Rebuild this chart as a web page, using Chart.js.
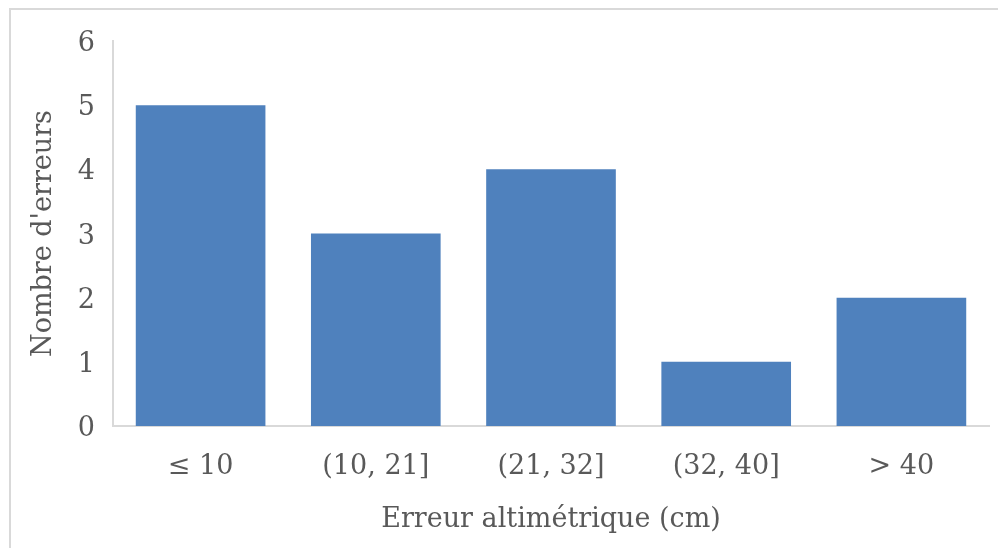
<!DOCTYPE html>
<html>
<head>
<meta charset="utf-8">
<script src="https://cdn.jsdelivr.net/npm/chart.js@4/dist/chart.umd.min.js"></script>
<style>
  html, body { margin: 0; padding: 0; background: #ffffff; }
  #wrap { position: relative; width: 998px; height: 548px; }
</style>
</head>
<body>
<div id="wrap"><canvas id="c" width="998" height="548"></canvas></div>
<script>
// Error classes (cm) and number of errors in each class
const categories = ['\u2264 10', '(10, 21]', '(21, 32]', '(32, 40]', '> 40'];
const errorCounts = [5, 3, 4, 1, 2];
const yTicks = [0, 1, 2, 3, 4, 5, 6];

const textColor = '#595959';
const fontFamily = '"DejaVu Serif", serif';
const fontSize = 27;

// Thin grey frame around the chart
const framePlugin = {
  id: 'frame',
  beforeDraw(chart) {
    const ctx = chart.ctx;
    ctx.save();
    ctx.fillStyle = '#ffffff';
    ctx.fillRect(0, 0, chart.width, chart.height);
    ctx.strokeStyle = '#d9d9d9';
    ctx.lineWidth = 2;
    ctx.beginPath();
    ctx.moveTo(10, chart.height);
    ctx.lineTo(10, 9);
    ctx.lineTo(chart.width, 9);
    ctx.stroke();
    ctx.restore();
  }
};

new Chart(document.getElementById('c'), {
  type: 'bar',
  data: {
    labels: categories,
    datasets: [{
      label: "Nombre d'erreurs",
      data: errorCounts,
      backgroundColor: '#4f81bd',
      borderWidth: 0,
      categoryPercentage: 1.0,
      barPercentage: 0.74
    }]
  },
  plugins: [framePlugin],
  options: {
    responsive: false,
    animation: false,
    devicePixelRatio: 1,
    layout: { padding: { top: 41, right: 9, left: 0, bottom: 0 } },
    plugins: {
      legend: { display: false },
      tooltip: { enabled: false }
    },
    scales: {
      x: {
        grid: { display: false, drawTicks: false },
        border: { display: true, color: '#d9d9d9', width: 2 },
        ticks: {
          color: textColor,
          font: { family: fontFamily, size: fontSize },
          padding: 25,
          maxRotation: 0
        },
        title: {
          display: true,
          text: 'Erreur altimétrique (cm)',
          color: textColor,
          font: { family: fontFamily, size: fontSize },
          padding: { top: 0, bottom: 12 }
        },
        afterFit(scale) { scale.height = 548 - 426; }
      },
      y: {
        min: 0,
        max: 6,
        afterBuildTicks(scale) { scale.ticks = yTicks.map(v => ({ value: v })); },
        grid: { display: false, drawTicks: false },
        border: { display: true, color: '#d9d9d9', width: 2 },
        ticks: {
          color: textColor,
          font: { family: fontFamily, size: fontSize },
          padding: 18,
          labelOffset: 3
        },
        title: {
          display: true,
          text: "Nombre d'erreurs",
          color: textColor,
          font: { family: fontFamily, size: fontSize },
          padding: { top: 28, bottom: 0 }
        },
        afterFit(scale) { scale.width = 113; }
      }
    }
  }
});
</script>
</body>
</html>
